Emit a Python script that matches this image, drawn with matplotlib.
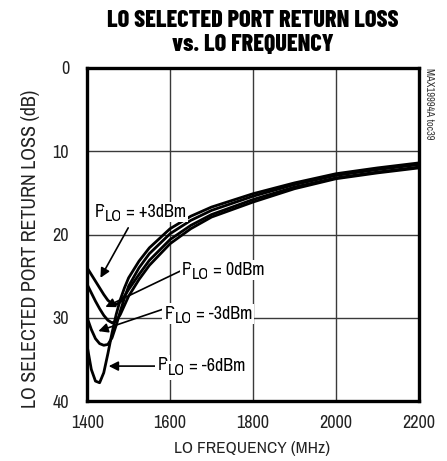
import matplotlib
matplotlib.use("Agg")
import matplotlib.pyplot as plt

plt.rcParams['font.family'] = ['Archivo Narrow', 'DejaVu Sans']

freq = [1400, 1410, 1420, 1430, 1440, 1450, 1460, 1470, 1480, 1490, 1500,
        1525, 1550, 1600, 1650, 1700, 1800, 1900, 2000, 2100, 2200]
rl_p3 = [24.0, 24.8, 25.6, 26.4, 27.2, 27.9, 28.3, 28.4, 28.1, 27.4, 26.6,
         24.8, 23.1, 20.6, 18.9, 17.6, 15.8, 14.3, 13.2, 12.5, 11.9]
rl_0 = [26.0, 27.0, 28.0, 28.9, 29.7, 30.3, 30.6, 30.4, 29.6, 28.5, 27.4,
        25.4, 23.7, 21.1, 19.3, 17.9, 16.1, 14.5, 13.3, 12.6, 12.0]
rl_m3 = [30.0, 31.4, 32.5, 33.1, 33.3, 33.2, 32.4, 30.9, 29.2, 27.6, 26.2,
         24.0, 22.3, 19.9, 18.3, 17.1, 15.4, 14.0, 12.9, 12.2, 11.6]
rl_m6 = [33.4, 36.2, 37.6, 37.8, 36.6, 34.3, 31.8, 29.6, 27.8, 26.4, 25.2,
         23.2, 21.6, 19.3, 17.8, 16.7, 15.1, 13.8, 12.7, 12.0, 11.4]

x_ticks = [1400, 1600, 1800, 2000, 2200]
y_ticks = [0, 10, 20, 30, 40]

fig = plt.figure(figsize=(4.47, 4.61), dpi=100)
ax = fig.add_axes([0.195, 0.130, 0.742, 0.7225])

for s in (rl_p3, rl_0, rl_m3, rl_m6):
    ax.plot(freq, s, color='black', lw=2.0, zorder=3)

ax.set_xlim(1400, 2200)
ax.set_ylim(40, 0)
ax.set_xticks(x_ticks)
ax.set_yticks(y_ticks)
ax.grid(True, color='#3a3a3a', lw=1.0, zorder=1)
ax.tick_params(length=0, labelsize=13, colors='#222222')
ax.tick_params(axis='x', pad=10)
ax.tick_params(axis='y', pad=13)
for sp in ax.spines.values():
    sp.set_linewidth(2.4)

ax.set_xlabel('LO FREQUENCY (MHz)', fontsize=12.5, color='#222222')
ax.xaxis.set_label_coords(0.497, -0.12)
ax.set_ylabel('LO SELECTED PORT RETURN LOSS (dB)', fontsize=14.3, color='#222222')
ax.yaxis.set_label_coords(-0.142, 0.458)

fig.text(0.565, 0.979, 'LO SELECTED PORT RETURN LOSS\nvs. LO FREQUENCY',
         ha='center', va='top', fontsize=17.5, fontweight=800,
         family=['Barlow Condensed', 'DejaVu Sans'], linespacing=1.12)

ax.text(1.015, 1.0, 'MAX19994A toc39', transform=ax.transAxes, rotation=270,
        ha='left', va='top', fontsize=7.5, color='#333333')

bbox = dict(facecolor='white', edgecolor='none', pad=1.5)
arrow = dict(arrowstyle='-|>', color='black', lw=1.2, mutation_scale=14, shrinkA=0, shrinkB=0)


def plo_label(x, y, rest):
    t1 = ax.text(x, y, 'P', fontsize=13, va='center', ha='left', bbox=bbox, zorder=5)
    t2 = ax.annotate('LO', xy=(1, 0), xycoords=t1, xytext=(0.2, -3.2),
                     textcoords='offset points', fontsize=11.5, va='bottom', ha='left',
                     bbox=bbox, zorder=5)
    ax.annotate(' = ' + rest, xy=(1, 0), xycoords=t2, xytext=(0, 3.0),
                textcoords='offset points', fontsize=13, va='bottom', ha='left',
                bbox=bbox, zorder=5)


plo_label(1418, 17.3, '+3dBm')
ax.annotate('', xy=(1432, 25.2), xytext=(1499, 19.2), arrowprops=arrow, zorder=4)

plo_label(1628, 24.2, '0dBm')
ax.annotate('', xy=(1444, 28.7), xytext=(1624, 24.4), arrowprops=arrow, zorder=4)

plo_label(1586, 29.5, '-3dBm')
ax.annotate('', xy=(1427, 31.6), xytext=(1581, 29.0), arrowprops=arrow, zorder=4)

plo_label(1570, 35.7, '-6dBm')
ax.annotate('', xy=(1452, 35.8), xytext=(1566, 35.8), arrowprops=arrow, zorder=4)

fig.savefig('out.png', dpi=100)
